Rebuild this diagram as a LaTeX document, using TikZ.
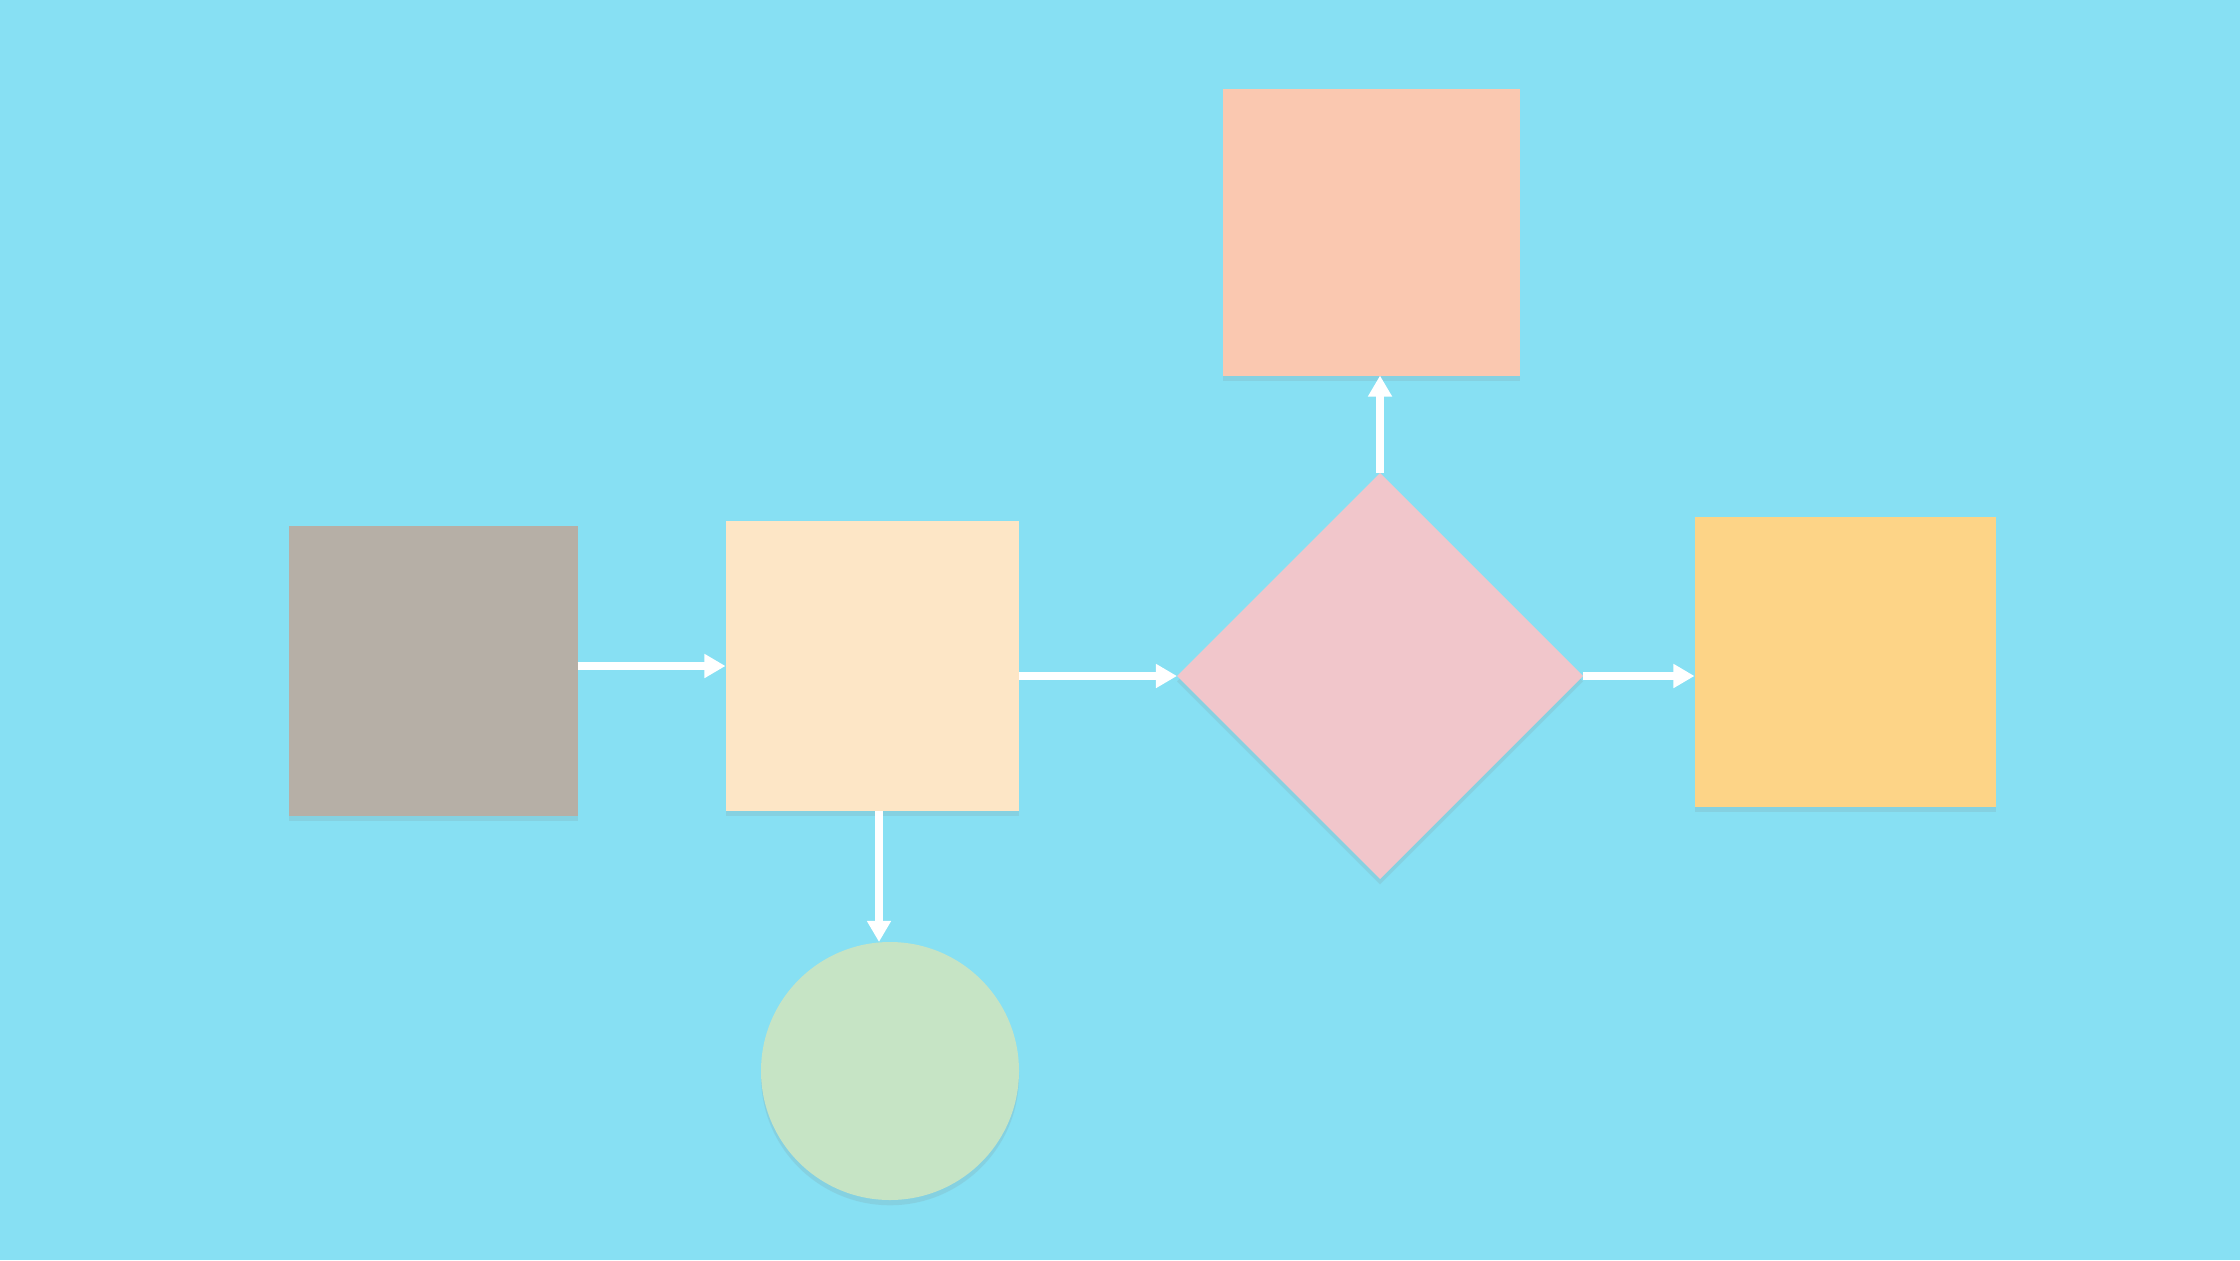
\documentclass[tikz,border=0pt]{standalone}
\usetikzlibrary{shapes.geometric,arrows.meta,shadows}
\definecolor{bgblue}{RGB}{135,224,243}
\definecolor{paperstone}{RGB}{182,175,166}
\definecolor{papercream}{RGB}{253,230,198}
\definecolor{paperpink}{RGB}{241,198,203}
\definecolor{paperpeach}{RGB}{250,200,176}
\definecolor{paperorange}{RGB}{253,212,135}
\definecolor{papergreen}{RGB}{198,228,197}
\tikzstyle{paper} = [inner sep=0pt, outer sep=0pt, drop shadow={opacity=0.15, shadow xshift=0pt, shadow yshift=-1.5pt}]
\tikzstyle{card} = [paper, rectangle, minimum width=2.93cm, minimum height=2.9cm]
\tikzstyle{decision} = [paper, diamond, aspect=1, minimum width=4.06cm, minimum height=4.06cm]
\tikzstyle{disc} = [paper, circle, minimum size=2.58cm]
\tikzstyle{arrow} = [white, line width=2.1pt, -{Triangle[length=6pt,width=6.5pt]}]

\begin{document}
\begin{tikzpicture}
\fill[bgblue] (0,0) rectangle (22.4,12.6);
\node (start) [card, fill=paperstone, minimum width=2.89cm] at (4.33,5.89) {};
\node (step1) [card, fill=papercream] at (8.72,5.94) {};
\node (choice) [decision, fill=paperpink] at (13.8,5.84) {};
\node (top) [card, fill=paperpeach, minimum width=2.97cm, minimum height=2.87cm] at (13.71,10.28) {};
\node (right) [card, fill=paperorange, minimum width=3.01cm] at (18.45,5.98) {};
\node (end) [disc, fill=papergreen] at (8.9,1.89) {};
\draw [arrow] (start.east |- step1) -- (step1.west);
\draw [arrow] (choice.west -| step1.east) -- (choice.west);
\draw [arrow] (choice.east) -- (choice.east -| right.west);
\draw [arrow] (choice.north) -- (choice.north |- top.south);
\draw [arrow] ([xshift=0.07cm]step1.south) -- ([xshift=0.07cm]step1.south |- end.north);
\end{tikzpicture}
\end{document}
